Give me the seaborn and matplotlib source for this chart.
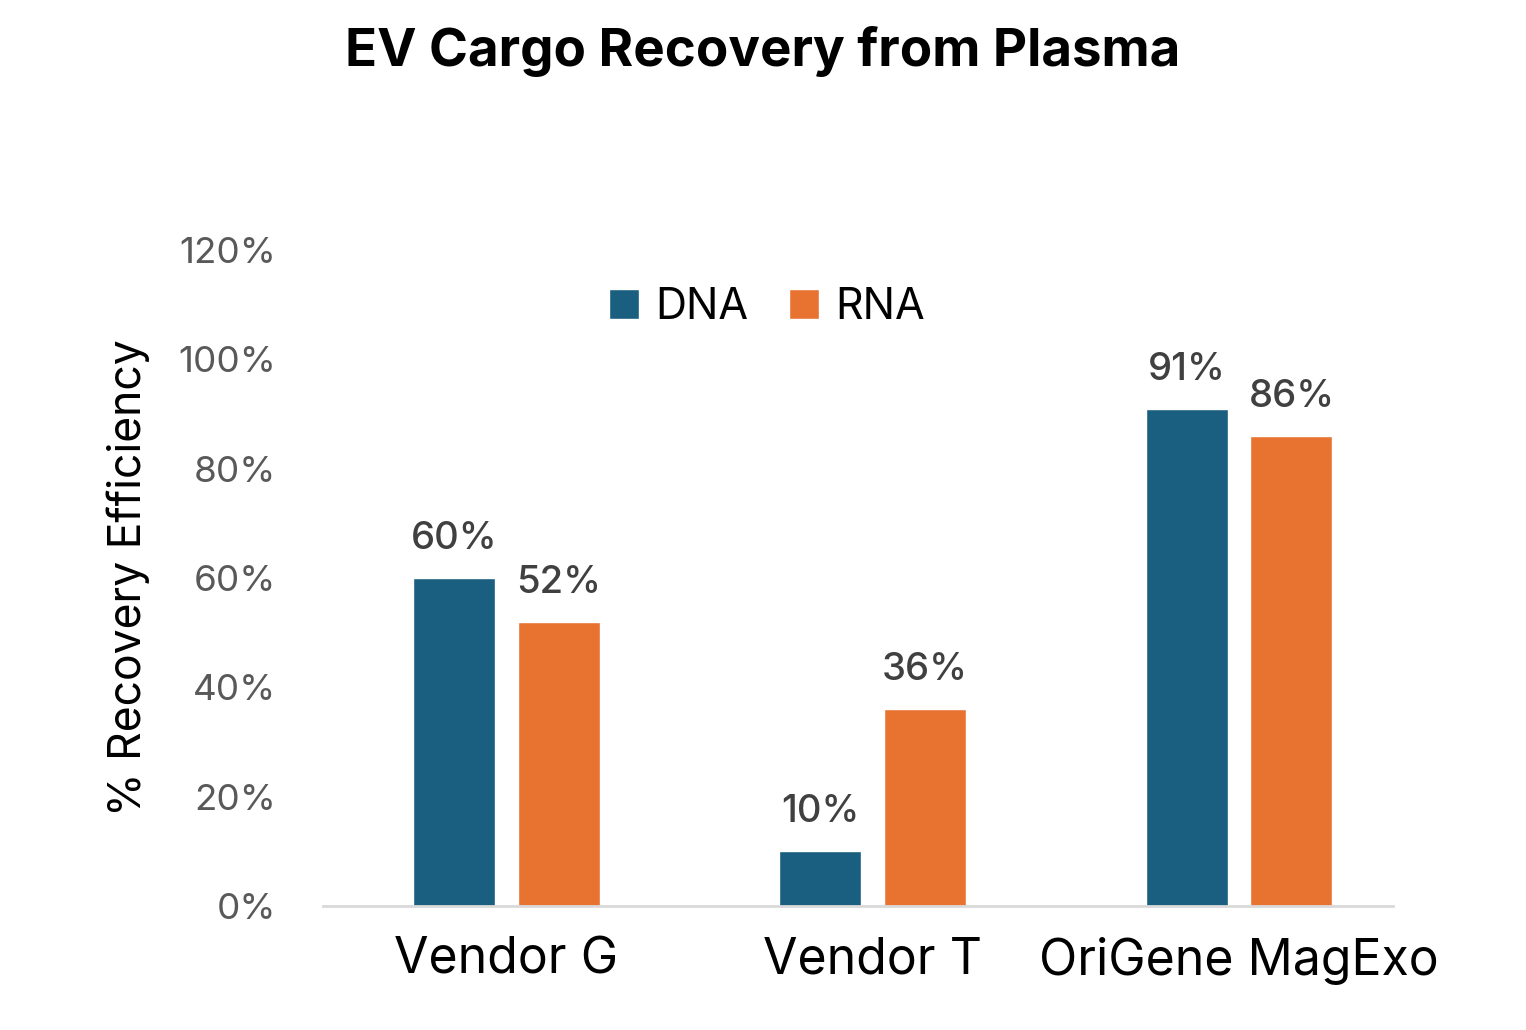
import matplotlib
matplotlib.use("Agg")
import matplotlib.pyplot as plt
import seaborn as sns
import pandas as pd
from matplotlib.ticker import FuncFormatter

vendors = ["Vendor G", "Vendor T", "OriGene MagExo"]
dna = [60, 10, 91]
rna = [52, 36, 86]
cargo = ["DNA", "RNA"]
colors = {"DNA": "#1a5f80", "RNA": "#e87331"}

df = pd.DataFrame({
    "vendor": vendors * 2,
    "cargo": ["DNA"] * 3 + ["RNA"] * 3,
    "value": dna + rna,
})

sns.set_theme(style="white")
plt.rcParams["font.family"] = ["Inter", "DejaVu Sans"]

fig = plt.figure(figsize=(15.26, 10.3), dpi=100)
ax = fig.add_axes([0.2117, 0.1204, 0.7011, 0.6369])

sns.barplot(data=df, x="vendor", y="value", hue="cargo", hue_order=cargo,
            palette=colors, width=0.572, gap=0.217, saturation=1, ax=ax)

for cont in ax.containers:
    ax.bar_label(cont, labels=[f"{v:.0f}%" for v in cont.datavalues],
                 padding=15, fontsize=27.5, color="#404040", fontweight="medium")

ax.set_ylim(0, 120)
ax.set_xlim(-0.5, 2.42)
ax.set_yticks(range(0, 121, 20))
ax.yaxis.set_major_formatter(FuncFormatter(lambda v, p: f"{v:.0f}%"))
ax.tick_params(axis="y", length=0, pad=34, labelsize=26.5, labelcolor="#595959")
ax.tick_params(axis="x", length=0, pad=22, labelsize=36, labelcolor="black")
ax.set_xlabel("")
ax.set_ylabel("% Recovery Efficiency", fontsize=32, color="black", labelpad=20)

for s in ["top", "right", "left"]:
    ax.spines[s].set_visible(False)
ax.spines["bottom"].set_color("#d9d9d9")
ax.spines["bottom"].set_linewidth(2)

leg = ax.legend(loc="center", bbox_to_anchor=(0.415, 0.912), ncol=2, frameon=False,
                fontsize=31, handlelength=0.7, handleheight=0.7, handletextpad=0.37,
                columnspacing=0.95)
for t in leg.get_texts():
    t.set_color("black")

fig.suptitle("EV Cargo Recovery from Plasma", fontsize=38, fontweight="bold",
             color="black", y=0.975, x=0.5)

fig.savefig("out.png", dpi=100)
